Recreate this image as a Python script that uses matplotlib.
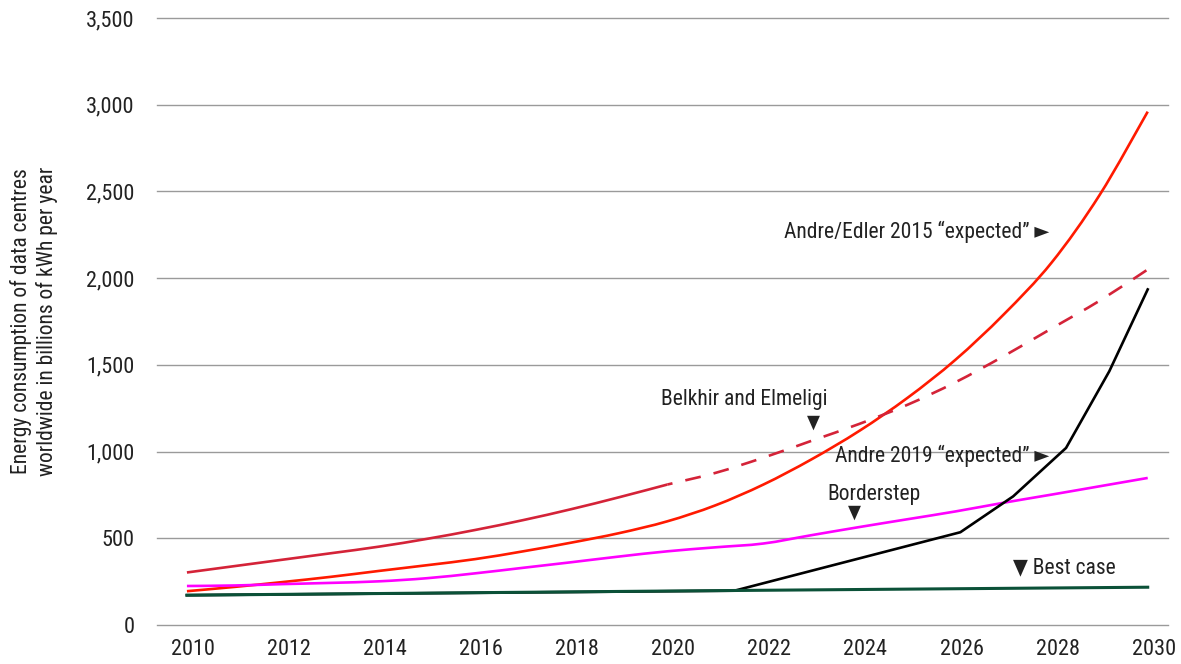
import matplotlib
matplotlib.use('Agg')
from matplotlib import pyplot as plt
from matplotlib.ticker import FuncFormatter
from matplotlib.path import Path
from matplotlib.patches import PathPatch
import matplotlib.transforms as mtransforms

plt.rcParams['font.family'] = ['Roboto Condensed', 'Open Sans Condensed',
                               'Liberation Sans Narrow', 'Roboto', 'DejaVu Sans']
plt.rcParams['font.stretch'] = 'condensed'

years = list(range(2010, 2031))

# Andre/Edler 2015 "expected"
andre_edler_2015 = [195, 220, 248, 278, 312, 345, 380, 425, 475, 530, 598,
                    690, 810, 955, 1120, 1310, 1530, 1790, 2090, 2480, 2960]

# Belkhir and Elmeligi: solid up to 2020, dashed after
belkhir_years = list(range(2010, 2021))
belkhir = [303, 340, 377, 414, 452, 497, 548, 605, 668, 737, 810]
belkhir_proj_years = list(range(2020, 2031))
belkhir_proj = [810, 877, 965, 1062, 1160, 1270, 1400, 1550, 1710, 1870, 2050]

borderstep = [225, 228, 236, 243, 252, 270, 298, 330, 362, 395, 425,
              448, 470, 518, 565, 610, 655, 705, 752, 800, 848]

andre_2019_years = [2010, 2021.4, 2026.1, 2027.2, 2028.3, 2029.2, 2030]
andre_2019 = [172, 198, 535, 742, 1021, 1463, 1935]

best_case_years = [2010, 2020, 2030]
best_case = [172, 196, 218]

yticks = [0, 500, 1000, 1500, 2000, 2500, 3000, 3500]
xticks = list(range(2010, 2031, 2))

txt = '#222222'


def smooth_line(ax, xs, ys, **kw):
    # Excel-style smoothed line: Catmull-Rom segments as cubic Bezier curves
    verts = [(xs[0], ys[0])]
    codes = [Path.MOVETO]
    n = len(xs)
    for i in range(n - 1):
        x0, y0 = (xs[i - 1], ys[i - 1]) if i > 0 else (xs[i], ys[i])
        x1, y1 = xs[i], ys[i]
        x2, y2 = xs[i + 1], ys[i + 1]
        x3, y3 = (xs[i + 2], ys[i + 2]) if i + 2 < n else (x2, y2)
        c1 = (x1 + (x2 - x0) / 6, y1 + (y2 - y0) / 6)
        c2 = (x2 - (x3 - x1) / 6, y2 - (y3 - y1) / 6)
        verts += [c1, c2, (x2, y2)]
        codes += [Path.CURVE4] * 3
    patch = PathPatch(Path(verts, codes), facecolor='none', **kw)
    ax.add_patch(patch)


fig = plt.figure(figsize=(11.81, 6.64), dpi=100)
ax = fig.add_axes([0.1329, 0.0587, 0.856, 0.9142])

lw = 1.9
smooth_line(ax, years, andre_edler_2015, edgecolor='#ff1a00', lw=lw, zorder=3)
smooth_line(ax, belkhir_years, belkhir, edgecolor='#d42338', lw=lw, zorder=3)
smooth_line(ax, belkhir_proj_years, belkhir_proj, edgecolor='#d42338', lw=lw,
            linestyle=(4, (6, 5)), zorder=3)
smooth_line(ax, years, borderstep, edgecolor='#ff00ff', lw=lw, zorder=3)
ax.plot(andre_2019_years, andre_2019, color='#000000', lw=lw, zorder=3)
ax.plot(best_case_years, best_case, color='#0b5138', lw=lw + 0.3, zorder=4)

ax.set_xlim(2009.376, 2030.42)
ax.set_ylim(0, 3500)
ax.set_yticks(yticks)
ax.set_xticks(xticks)
ax.yaxis.set_major_formatter(FuncFormatter(lambda v, p: f'{int(v):,}'))
ax.tick_params(axis='both', length=0, labelsize=16, colors=txt)
ax.tick_params(axis='y', pad=16)
ax.tick_params(axis='x', pad=10)
shift = mtransforms.ScaledTranslation(6 / 100, 0, fig.dpi_scale_trans)
for lab in ax.get_xticklabels():
    lab.set_transform(lab.get_transform() + shift)
for s in ax.spines.values():
    s.set_visible(False)
ax.grid(axis='y', color='#9a9a9a', lw=1)
ax.grid(axis='x', visible=False)
ax.set_axisbelow(True)
for gl in ax.get_ygridlines():
    gl.set_clip_on(False)

ax.set_ylabel('Energy consumption of data centres\nworldwide in billions of kWh per year',
              fontsize=15.5, color=txt, labelpad=20, linespacing=1.25)

fs = 15.5
ax.text(2027.95, 2266, 'Andre/Edler 2015 \u201cexpected\u201d \u25BA', ha='right', va='center',
        fontsize=fs, color=txt)
ax.text(2021.6, 1303, 'Belkhir and Elmeligi', ha='center', va='center', fontsize=fs, color=txt)
ax.text(2023.05, 1165, '\u25BC', ha='center', va='center', fontsize=fs - 2, color=txt)
ax.text(2027.95, 975, 'Andre 2019 \u201cexpected\u201d \u25BA', ha='right', va='center',
        fontsize=fs, color=txt)
ax.text(2024.3, 750, 'Borderstep', ha='center', va='center', fontsize=fs, color=txt)
ax.text(2023.9, 646, '\u25BC', ha='center', va='center', fontsize=fs - 2, color=txt)
ax.text(2027.2, 329, '\u25BC Best case', ha='left', va='center', fontsize=fs, color=txt)

fig.savefig('out.png', dpi=100)
